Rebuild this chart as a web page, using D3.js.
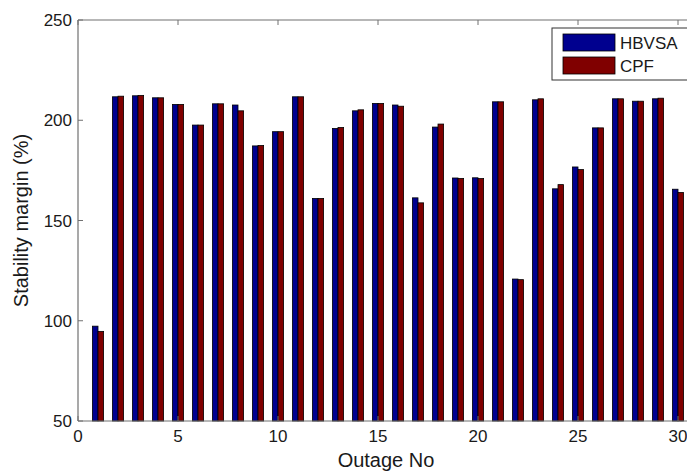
<!DOCTYPE html>
<html>
<head>
<meta charset="utf-8">
<script src="https://cdn.jsdelivr.net/npm/d3@7"></script>
<style>
  body { margin: 0; background: #fff; }
  text { font-family: "Liberation Sans", Arial, sans-serif; fill: #1a1a1a; }
</style>
</head>
<body>
<svg id="chart" width="687" height="472"></svg>
<script>
// outage numbers 1..30
var outages = [1,2,3,4,5,6,7,8,9,10,11,12,13,14,15,16,17,18,19,20,21,22,23,24,25,26,27,28,29,30];
var hbvsa = [97.3,211.7,212.2,211.2,207.9,197.6,208.2,207.6,187.2,194.3,211.7,161.0,195.9,204.7,208.4,207.6,161.3,196.6,171.2,171.3,209.2,120.8,210.2,165.8,176.7,196.2,210.7,209.5,210.7,165.6];
var cpf   = [94.7,212.0,212.4,211.2,207.9,197.6,208.2,204.7,187.4,194.3,211.7,161.0,196.4,205.2,208.4,207.0,158.8,198.1,171.0,170.9,209.2,120.5,210.7,167.9,175.4,196.2,210.7,209.5,211.0,164.0];
var seriesNames = ["HBVSA", "CPF"];
var seriesColors = ["#00008f", "#800000"];
var xTicks = [0,5,10,15,20,25,30];
var yTicks = [50,100,150,200,250];

var svg = d3.select("#chart");

var plotL = 78, plotR = 698, plotT = 20, plotB = 421;

var x = d3.scaleLinear().domain([0, 31]).range([plotL, plotR]);
var y = d3.scaleLinear().domain([50, 250]).range([plotB, plotT]);

var barW = 0.28; // in outage units

var axisColor = "#707070";

// bars
var series = [hbvsa, cpf];
series.forEach(function(vals, s){
  svg.append("g").selectAll("rect")
    .data(outages)
    .enter()
    .append("rect")
    .attr("x", function(d){ return x(d - barW + s*barW); })
    .attr("width", x(barW) - x(0))
    .attr("y", function(d, i){ return y(vals[i]); })
    .attr("height", function(d, i){ return y(50) - y(vals[i]); })
    .style("fill", seriesColors[s])
    .style("stroke", "#000")
    .style("stroke-width", "0.8px");
});

// axes box (left, bottom, top)
svg.append("line").attr("x1", plotL).attr("x2", plotR).attr("y1", plotB).attr("y2", plotB)
  .style("stroke", axisColor).style("stroke-width", "1.2px");
svg.append("line").attr("x1", plotL).attr("x2", plotR).attr("y1", plotT).attr("y2", plotT)
  .style("stroke", axisColor).style("stroke-width", "1.2px");
svg.append("line").attr("x1", plotL).attr("x2", plotL).attr("y1", plotT).attr("y2", plotB)
  .style("stroke", axisColor).style("stroke-width", "1.2px");

// x ticks (inward, bottom and top)
xTicks.forEach(function(t){
  svg.append("line").attr("x1", x(t)).attr("x2", x(t)).attr("y1", plotB).attr("y2", plotB - 5)
    .style("stroke", axisColor);
  svg.append("line").attr("x1", x(t)).attr("x2", x(t)).attr("y1", plotT).attr("y2", plotT + 5)
    .style("stroke", axisColor);
  svg.append("text")
    .attr("x", x(t))
    .attr("y", 442)
    .attr("text-anchor", "middle")
    .style("font-size", "17px")
    .text(t);
});

// y ticks
yTicks.forEach(function(t){
  svg.append("line").attr("x1", plotL).attr("x2", plotL + 5).attr("y1", y(t)).attr("y2", y(t))
    .style("stroke", axisColor);
  svg.append("text")
    .attr("x", 72)
    .attr("y", y(t))
    .attr("dy", "0.36em")
    .attr("text-anchor", "end")
    .style("font-size", "17px")
    .text(t);
});

// axis labels
svg.append("text")
  .attr("x", (plotL + plotR) / 2 - 2)
  .attr("y", 467)
  .attr("text-anchor", "middle")
  .style("font-size", "20px")
  .text("Outage No");

svg.append("text")
  .attr("transform", "translate(28," + ((plotT + plotB) / 2) + ") rotate(-90)")
  .attr("text-anchor", "middle")
  .style("font-size", "20px")
  .text("Stability margin (%)");

// legend
var lg = svg.append("g");
lg.append("rect")
  .attr("x", 552).attr("y", 28).attr("width", 140).attr("height", 52)
  .style("fill", "#fff").style("stroke", "#333").style("stroke-width", "1px");
seriesNames.forEach(function(name, i){
  lg.append("rect")
    .attr("x", 563).attr("y", 34 + i*23).attr("width", 52).attr("height", 17)
    .style("fill", seriesColors[i]).style("stroke", "#000").style("stroke-width", "0.8px");
  lg.append("text")
    .attr("x", 620).attr("y", 49 + i*23)
    .style("font-size", "17px")
    .text(name);
});
</script>
</body>
</html>
